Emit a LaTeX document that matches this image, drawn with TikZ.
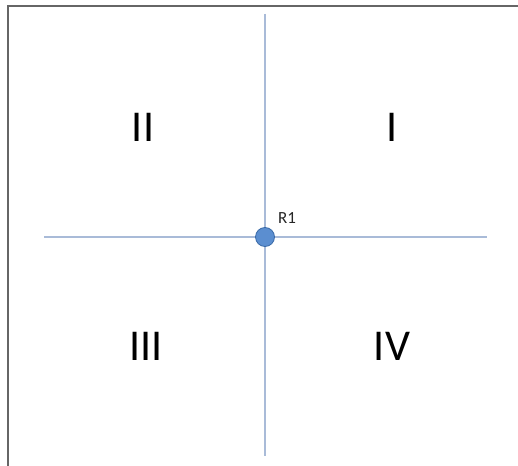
\documentclass[tikz,border=0pt]{standalone}
\usepackage{fontspec}
\setmainfont{Carlito}
\usetikzlibrary{positioning}
\definecolor{axisblue}{HTML}{A9BBD8}
\definecolor{dotblue}{HTML}{5B8ED0}
\definecolor{dotedge}{HTML}{3A6AA8}
\tikzset{
  axis/.style={draw=axisblue, line width=1.8pt},
  quad/.style={font=\fontsize{44}{48}\selectfont, text=black},
  origin/.style={circle, fill=dotblue, draw=dotedge, line width=0.8pt,
                 minimum size=19pt, inner sep=0pt},
  frameline/.style={draw=gray!80!black, line width=2pt}
}
\begin{document}
\begin{tikzpicture}[x=1pt, y=-1pt]
    \useasboundingbox (0,0) rectangle (518,465);
    \fill[white] (0,0) rectangle (518,465);
    \draw[frameline] (8,470) -- (8,6) -- (525,6);
    % axes
    \coordinate (top) at (265,14);
    \coordinate (bot) at (265,456);
    \coordinate (lft) at (44,237);
    \coordinate (rgt) at (487,237);
    \draw[axis] (top) -- (bot);
    \draw[axis] (lft) -- (rgt);
    \node[origin] (r1) at (265,237) {};
    \node[font=\fontsize{17}{19}\selectfont, text=black!85, anchor=base west,
      inner sep=0pt] (r1lab) at (278,223) {R1};
    % quadrants
    \node[quad] (q1) at (392,127) {I};
    \node[quad] (q2) at (143,127) {II};
    \node[quad] (q3) at (146,346) {III};
    \node[quad] (q4) at (392,346) {IV};
\end{tikzpicture}
\end{document}
